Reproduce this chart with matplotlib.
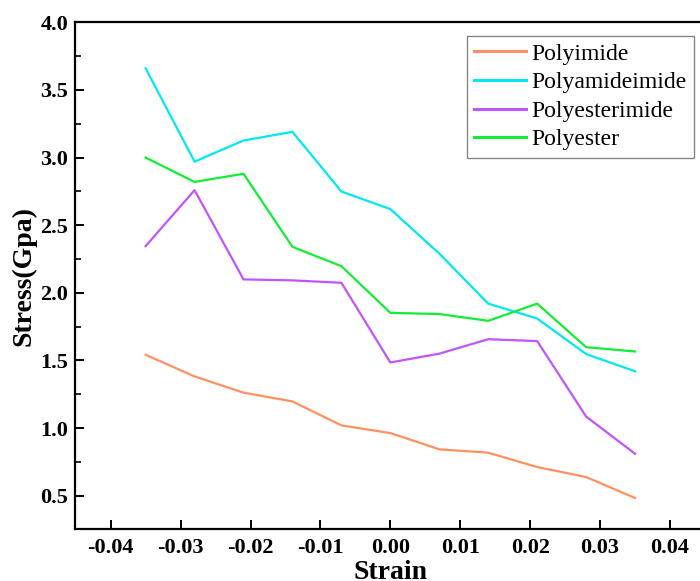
import matplotlib
matplotlib.use("Agg")
import matplotlib.pyplot as plt
from matplotlib.ticker import MultipleLocator

plt.rcParams['font.family'] = ['Liberation Serif', 'DejaVu Serif']

strain = [-0.035, -0.028, -0.021, -0.014, -0.007, 0.0, 0.007, 0.014, 0.021, 0.028, 0.035]
polyimide = [1.542, 1.382, 1.262, 1.197, 1.020, 0.963, 0.843, 0.818, 0.712, 0.638, 0.483]
polyamideimide = [3.660, 2.970, 3.126, 3.190, 2.749, 2.619, 2.290, 1.920, 1.810, 1.547, 1.420]
polyesterimide = [2.345, 2.759, 2.099, 2.092, 2.074, 1.485, 1.550, 1.657, 1.643, 1.085, 0.810]
polyester = [3.000, 2.820, 2.880, 2.340, 2.197, 1.852, 1.843, 1.793, 1.920, 1.598, 1.566]

series_names = ["Polyimide", "Polyamideimide", "Polyesterimide", "Polyester"]
series_values = [polyimide, polyamideimide, polyesterimide, polyester]
series_colors = ["#FF9060", "#00E8F0", "#C055FF", "#11EE33"]

x_ticks = [-0.04, -0.03, -0.02, -0.01, 0.0, 0.01, 0.02, 0.03, 0.04]
x_tick_labels = ["-0.04", "-0.03", "-0.02", "-0.01", "0.00", "0.01", "0.02", "0.03", "0.04"]
y_ticks = [0.5, 1.0, 1.5, 2.0, 2.5, 3.0, 3.5, 4.0]
y_tick_labels = ["0.5", "1.0", "1.5", "2.0", "2.5", "3.0", "3.5", "4.0"]

W, H = 700, 581
fig = plt.figure(figsize=(W / 100, H / 100), dpi=100)
left, right, top, bottom = 75, 705.7, 22.3, 528.7
ax = fig.add_axes([left / W, 1 - bottom / H, (right - left) / W, (bottom - top) / H])

for name, vals, col in zip(series_names, series_values, series_colors):
    ax.plot(strain, vals, color=col, lw=1.6, label=name)

ax.set_xlim(-0.0451, 0.0451)
ax.set_ylim(0.256, 4.0)
ax.set_xticks(x_ticks)
ax.set_xticklabels(x_tick_labels)
ax.set_yticks(y_ticks)
ax.set_yticklabels(y_tick_labels)
ax.yaxis.set_minor_locator(MultipleLocator(0.25))

for s in ax.spines.values():
    s.set_linewidth(1.6)
ax.spines['right'].set_visible(False)

ax.tick_params(axis='both', which='major', direction='in', length=6.5, width=1.4,
               labelsize=16)
ax.tick_params(axis='y', which='minor', direction='in', length=4.3, width=1.2)
ax.tick_params(axis='x', which='major', pad=6.5)
ax.tick_params(axis='y', which='major', pad=5)
for lbl in ax.get_xticklabels() + ax.get_yticklabels():
    lbl.set_fontweight('bold')

ax.set_xlabel("Strain", fontsize=20, fontweight='bold')
ax.xaxis.set_label_coords(0.5, (bottom - 560) / (bottom - top))
ax.set_ylabel("Stress(Gpa)", fontsize=20, fontweight='bold', labelpad=3)

leg = ax.legend(loc='upper left', bbox_to_anchor=(466.7 / W, 1 - 36 / H),
                bbox_transform=fig.transFigure, fontsize=17, frameon=True,
                fancybox=False, edgecolor='#666666', borderpad=0.3,
                labelspacing=0.3, handlelength=2.2, handletextpad=0.25,
                borderaxespad=0)
leg.get_frame().set_linewidth(1.0)
for line in leg.get_lines():
    line.set_linewidth(2.2)

fig.savefig("out.png", dpi=100)
